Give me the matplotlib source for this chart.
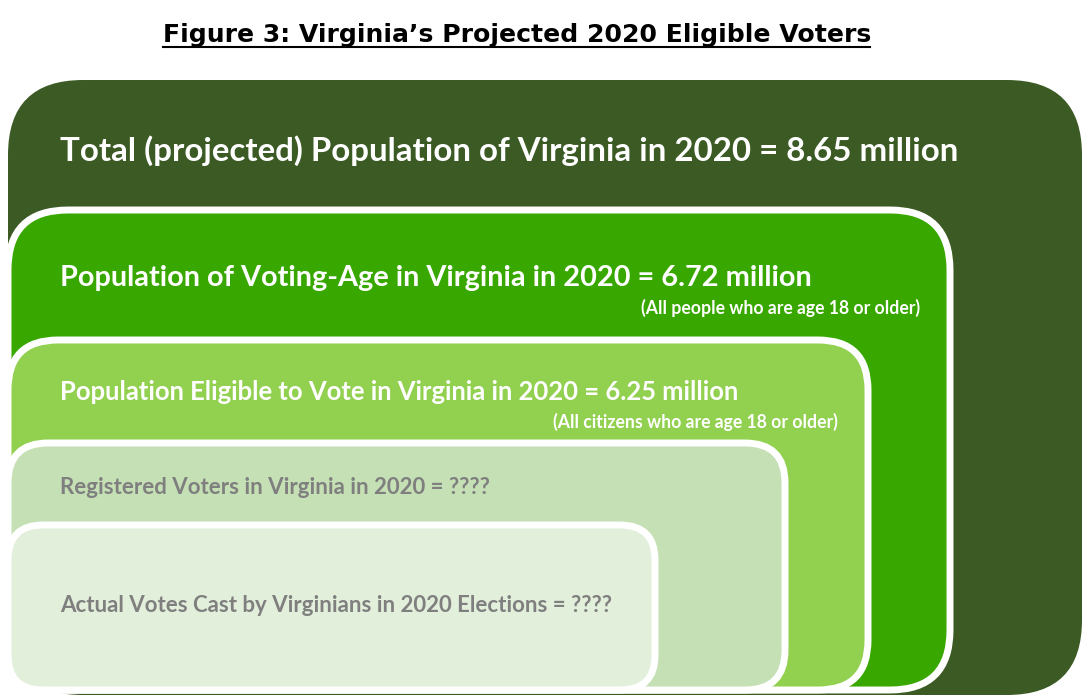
import matplotlib
matplotlib.use("Agg")
import matplotlib.pyplot as plt
from matplotlib.patches import FancyBboxPatch

title = "Figure 3: Virginia\u2019s Projected 2020 Eligible Voters"
labels = ["Total (projected) Population of Virginia in 2020",
          "Population of Voting-Age in Virginia in 2020",
          "Population Eligible to Vote in Virginia in 2020",
          "Registered Voters in Virginia in 2020",
          "Actual Votes Cast by Virginians in 2020 Elections"]
values = ["8.65 million", "6.72 million", "6.25 million", "????", "????"]
notes = ["", "(All people who are age 18 or older)", "(All citizens who are age 18 or older)", "", ""]

colors = ["#3b5a24", "#38a800", "#92d050", "#c5e0b4", "#e2efda"]
txtcol = ["white", "white", "white", "#7f7f7f", "#7f7f7f"]
boxes = [(8, 80, 1082, 695, 75), (8, 210, 950, 690, 60), (8, 340, 868, 690, 50),
         (8, 443, 785, 690, 40), (8, 525, 655, 690, 35)]
k = 1.19
fsz = [20 * k, 17.5 * k, 15.5 * k, 13.5 * k, 13.5 * k]
ty = [151, 278, 392, 488, 605]
ny = [None, 308, 422, None, None]

fig = plt.figure(figsize=(10.9, 7), dpi=100)
ax = fig.add_axes([0, 0, 1, 1])
ax.set_xlim(0, 1090); ax.set_ylim(700, 0); ax.axis("off")
fam = "Lato"
for i, (x0, y0, x1, y1, r) in enumerate(boxes):
    ax.add_patch(FancyBboxPatch((x0, y0), x1 - x0, y1 - y0,
                 boxstyle=f"round,pad=0,rounding_size={r}",
                 fc=colors[i], ec="white" if i else "none", lw=5 if i else 0))
    ax.text(60, ty[i], f"{labels[i]} = {values[i]}", color=txtcol[i], fontsize=fsz[i],
            fontweight="bold", family=fam, va="center", ha="left")
    if notes[i]:
        ax.text(x1 - 30, ny[i], notes[i], color="white", fontsize=10.5 * 1.21, fontweight="bold",
                family=fam, va="center", ha="right")
ax.text(517, 35, title, fontsize=18.1, fontweight="bold", family="DejaVu Sans",
        ha="center", va="center")
ax.plot([163, 870], [47, 47], color="black", lw=1.5)
fig.savefig("out.png", dpi=100)
